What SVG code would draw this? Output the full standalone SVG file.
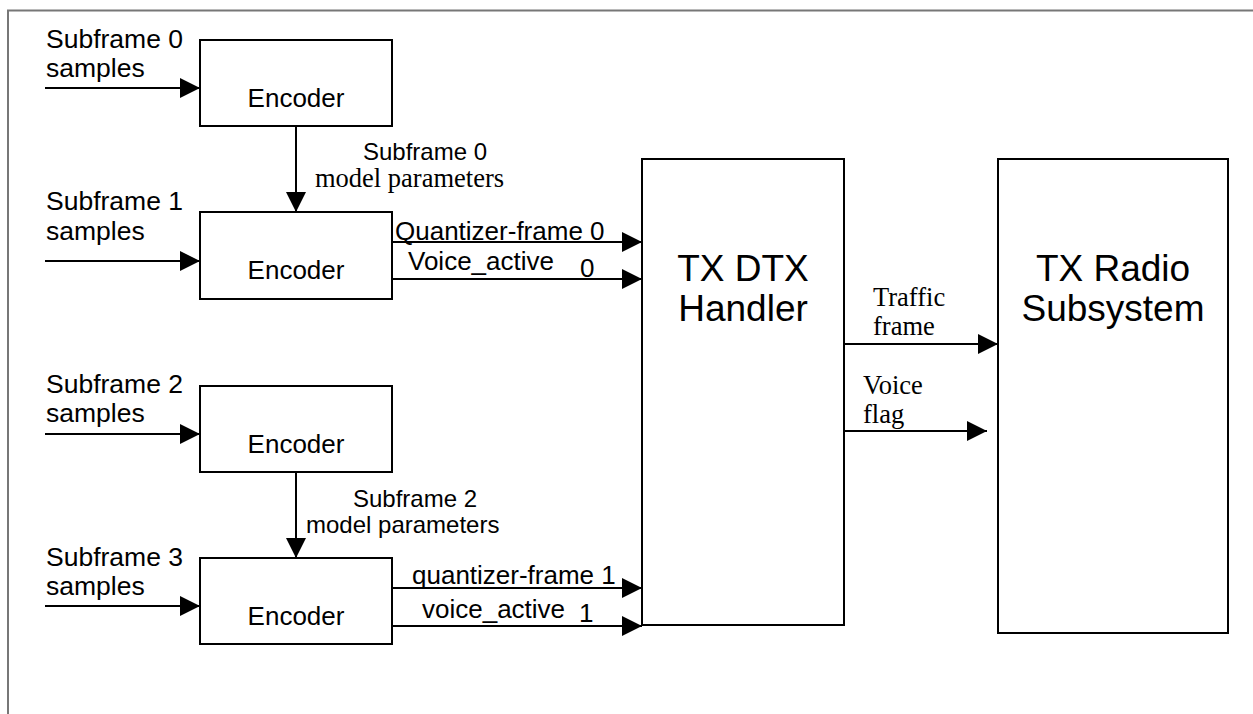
<svg xmlns="http://www.w3.org/2000/svg" width="1253" height="714" viewBox="0 0 1253 714">
<style>
.box{fill:#fff;stroke:#000;stroke-width:2}
.sans{font-family:"Liberation Sans",Arial,sans-serif;fill:#000}
.serif{font-family:"Liberation Serif","Times New Roman",serif;fill:#000}
.lbl{font-size:26.5px}
.sig{font-size:26px}
.sub{font-size:24px}
.enc{font-size:26px;text-anchor:middle}
.big{font-size:37px;text-anchor:middle}
.conn line{stroke:#000;stroke-width:2;marker-end:url(#arr)}
</style>
<defs>
<marker id="arr" viewBox="0 0 20 20" refX="20" refY="10" markerWidth="20" markerHeight="20" markerUnits="userSpaceOnUse" orient="auto">
<path d="M0,0 L20,10 L0,20 z" fill="#000"/>
</marker>
</defs>
<rect width="1253" height="714" fill="#fff"/>
<path d="M8,714 V10.5 H1253" fill="none" stroke="#777" stroke-width="2"/>

<g id="enc0"><rect class="box" x="200" y="40" width="192" height="86"/><text class="sans enc" x="296" y="107">Encoder</text></g>
<g id="enc1"><rect class="box" x="200" y="212" width="192" height="87"/><text class="sans enc" x="296" y="279">Encoder</text></g>
<g id="enc2"><rect class="box" x="200" y="386" width="192" height="86"/><text class="sans enc" x="296" y="453">Encoder</text></g>
<g id="enc3"><rect class="box" x="200" y="558" width="192" height="86"/><text class="sans enc" x="296" y="625">Encoder</text></g>
<g id="dtx"><rect class="box" x="642" y="159" width="202" height="466"/><text class="sans big" x="743" y="281">TX DTX</text><text class="sans big" x="743" y="321">Handler</text></g>
<g id="radio"><rect class="box" x="998" y="159" width="230" height="474"/><text class="sans big" x="1113" y="281">TX Radio</text><text class="sans big" x="1113" y="321">Subsystem</text></g>

<g class="conn">
<line x1="45" y1="88" x2="200" y2="88"/>
<line x1="45" y1="261" x2="200" y2="261"/>
<line x1="45" y1="434" x2="200" y2="434"/>
<line x1="45" y1="606" x2="200" y2="606"/>
<line x1="296" y1="126" x2="296" y2="212"/>
<line x1="296" y1="472" x2="296" y2="558"/>
<line x1="392" y1="242" x2="642" y2="242"/>
<line x1="392" y1="279" x2="642" y2="279"/>
<line x1="392" y1="588" x2="642" y2="588"/>
<line x1="392" y1="626" x2="642" y2="626"/>
<line x1="844" y1="344" x2="998" y2="344"/>
<line x1="844" y1="431" x2="987" y2="431"/>
</g>

<g id="labels">
<text class="sans lbl" x="46" y="48">Subframe 0</text>
<text class="sans lbl" x="46" y="77">samples</text>
<text class="sans lbl" x="46" y="210">Subframe 1</text>
<text class="sans lbl" x="46" y="240">samples</text>
<text class="sans lbl" x="46" y="393">Subframe 2</text>
<text class="sans lbl" x="46" y="422">samples</text>
<text class="sans lbl" x="46" y="566">Subframe 3</text>
<text class="sans lbl" x="46" y="595">samples</text>
<text class="sans sub" x="363" y="160">Subframe 0</text>
<text class="serif" font-size="26.5" x="315" y="187">model parameters</text>
<text class="sans sub" x="353" y="507">Subframe 2</text>
<text class="sans sub" x="306" y="533">model parameters</text>
<text class="sans sig" x="395" y="240">Quantizer-frame 0</text>
<text class="sans sig" x="408" y="270">Voice_active</text>
<text class="sans sig" x="580" y="277">0</text>
<text class="sans sig" x="412" y="584">quantizer-frame 1</text>
<text class="sans sig" x="422" y="618">voice_active</text>
<text class="sans sig" x="579" y="622">1</text>
<text class="serif" font-size="26.5" x="873" y="306">Traffic</text>
<text class="serif" font-size="26.5" x="873" y="335">frame</text>
<text class="serif" font-size="26.5" x="863" y="394">Voice</text>
<text class="serif" font-size="26.5" x="863" y="423">flag</text>
</g>
</svg>
